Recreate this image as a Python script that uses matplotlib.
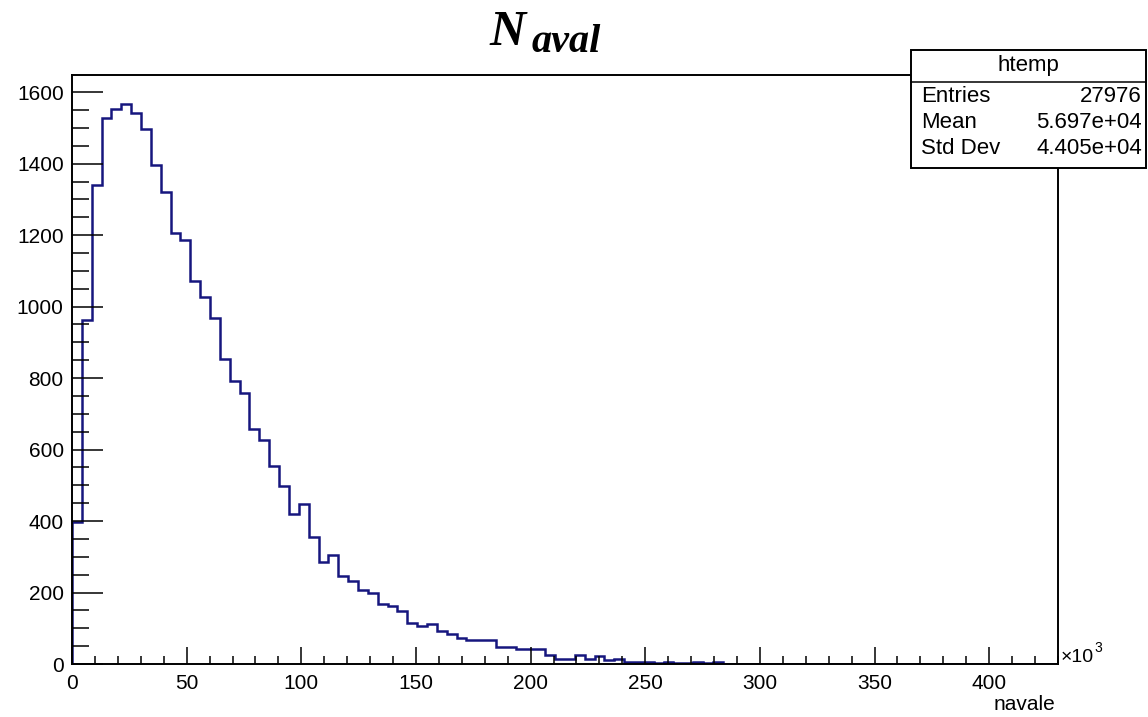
import numpy as np
import matplotlib
matplotlib.use("Agg")
import matplotlib.pyplot as plt
from matplotlib.ticker import MultipleLocator
from matplotlib.patches import Rectangle

# ---- data (counts per bin, navale in units of 10^3) ----
XMIN, XMAX, NBINS = 0.0, 430.0, 100
counts_nonzero = [
    396, 963, 1341, 1527, 1553, 1567, 1541, 1498, 1395, 1322,
    1205, 1187, 1071, 1026, 967, 854, 793, 757, 657, 627,
    555, 499, 421, 447, 356, 286, 305, 246, 232, 207,
    200, 169, 162, 148, 116, 105, 113, 92, 85, 74,
    68, 68, 68, 47, 47, 42, 42, 42, 25, 15,
    14, 25, 15, 21, 10, 14, 6, 5, 6, 4,
    5, 2, 3, 5, 3, 5, 1,
]
counts_tail = [0] * (NBINS - len(counts_nonzero))
counts = np.array(counts_nonzero + counts_tail, dtype=float)

title_main = "N"
title_sub = "aval"
xlabel = "navale"
x_major = [0, 50, 100, 150, 200, 250, 300, 350, 400]
y_major = [0, 200, 400, 600, 800, 1000, 1200, 1400, 1600]
stats_name = "htemp"
stats_labels = ["Entries", "Mean", "Std Dev"]
stats_values = ["27976", "5.697e+04", "4.405e+04"]

LINE = "#16167e"
SANS = "Liberation Sans"

W, H = 1148, 717
fig = plt.figure(figsize=(W / 100, H / 100), dpi=100)

def fx(px):
    return px / W

def fy(py):
    return 1 - py / H

L, R, T, B = 72, 1058, 75, 664
ax = fig.add_axes([fx(L), fy(B), fx(R - L), (B - T) / H])

edges = np.linspace(XMIN, XMAX, NBINS + 1)
ax.stairs(counts, edges, baseline=0, color=LINE, lw=1.8)

ax.set_xlim(XMIN, XMAX)
ax.set_ylim(0, 1648)
ax.set_xticks(x_major)
ax.set_yticks(y_major)
ax.xaxis.set_minor_locator(MultipleLocator(10))
ax.yaxis.set_minor_locator(MultipleLocator(50))
ax.tick_params(axis="both", which="both", direction="in", color="black",
               width=1.1, top=False, right=False)
ax.tick_params(axis="y", which="major", length=22, pad=6)
ax.tick_params(axis="y", which="minor", length=12)
ax.tick_params(axis="x", which="major", length=12, pad=7)
ax.tick_params(axis="x", which="minor", length=6)
for lab in ax.get_xticklabels() + ax.get_yticklabels():
    lab.set_fontfamily(SANS)
    lab.set_fontsize(15)
for sp in ax.spines.values():
    sp.set_linewidth(1.4)
    sp.set_color("black")

# axis label and exponent
fig.text(fx(1055), fy(705), xlabel, ha="right", va="center",
         fontsize=15, family=SANS)
fig.text(fx(1061), fy(657), "×10", ha="left", va="center",
         fontsize=14, family=SANS)
fig.text(fx(1094), fy(648), "3", ha="left", va="center",
         fontsize=10, family=SANS)

# title N_aval
fig.text(fx(489), fy(45), title_main, ha="left", va="baseline",
         fontsize=36, family="Liberation Serif", weight="bold", style="italic")
fig.text(fx(532), fy(52), title_sub, ha="left", va="baseline",
         fontsize=29, family="Liberation Serif", weight="bold", style="italic")

# stats box
bx0, bx1, by0, by1, bhead = 911, 1146, 50, 168, 82
fig.add_artist(Rectangle((fx(bx0), fy(by1)), fx(bx1 - bx0), (by1 - by0) / H,
                         transform=fig.transFigure, facecolor="white",
                         edgecolor="black", lw=1.4, zorder=5))
fig.add_artist(plt.Line2D([fx(bx0), fx(bx1)], [fy(bhead), fy(bhead)],
                          transform=fig.transFigure, color="black", lw=1.1,
                          zorder=6))
fig.text(fx((bx0 + bx1) / 2), fy(66), stats_name, ha="center", va="center",
         fontsize=16, family=SANS, zorder=7)
row_y = [96, 122, 149]
for lab, val, yy in zip(stats_labels, stats_values, row_y):
    fig.text(fx(921), fy(yy), lab, ha="left", va="center", fontsize=16,
             family=SANS, zorder=7)
    fig.text(fx(1142), fy(yy), val, ha="right", va="center", fontsize=16,
             family=SANS, zorder=7)

fig.savefig("out.png", dpi=100)
